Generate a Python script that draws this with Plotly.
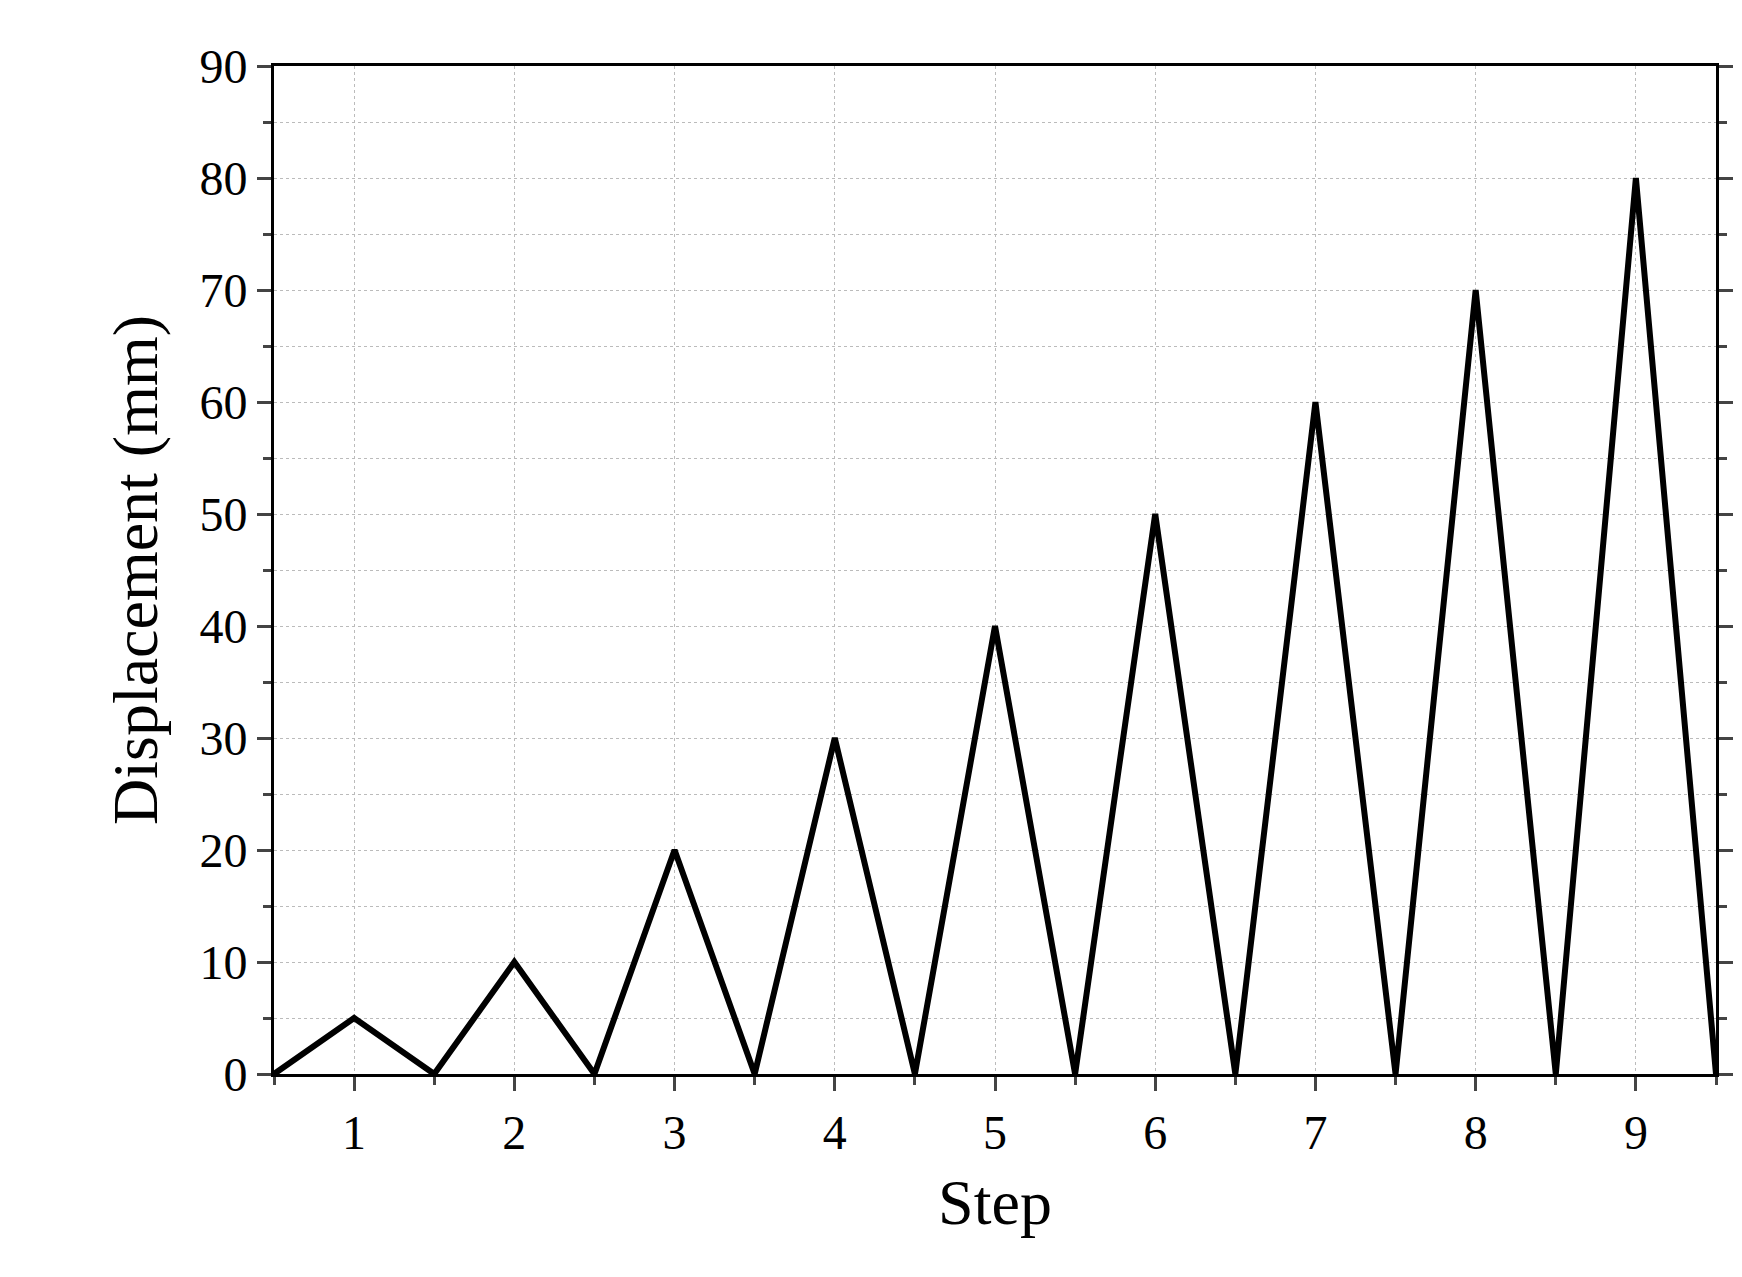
import plotly.graph_objects as go

steps = [0.5, 1, 1.5, 2, 2.5, 3, 3.5, 4, 4.5, 5, 5.5, 6, 6.5, 7, 7.5, 8, 8.5, 9, 9.5]
displacement = [0, 5, 0, 10, 0, 20, 0, 30, 0, 40, 0, 50, 0, 60, 0, 70, 0, 80, 0]
xticks = [1, 2, 3, 4, 5, 6, 7, 8, 9]

fig = go.Figure(go.Scatter(x=steps, y=displacement, mode="lines",
                           line=dict(color="black", width=6), cliponaxis=False))
font = dict(family="Liberation Serif, Times New Roman, serif", color="black")
fig.update_layout(
    width=1742, height=1277, paper_bgcolor="white", plot_bgcolor="white",
    margin=dict(l=266, r=34, t=58, b=211), showlegend=False,
    font=dict(**font, size=48),
    xaxis=dict(range=[0.5, 9.5], tickvals=xticks, ticks="outside", ticklen=14, tickwidth=3,
               showline=True, linewidth=3, linecolor="black", mirror=True,
               showgrid=True, gridcolor="#bbbbbb", griddash="dot", gridwidth=1,
               minor=dict(tickvals=[0.5,1.5,2.5,3.5,4.5,5.5,6.5,7.5,8.5,9.5], ticks="outside", ticklen=8, tickwidth=3, showgrid=False),
               title=dict(text="Step", font=dict(size=64), standoff=22), zeroline=False),
    yaxis=dict(range=[0, 90], dtick=10, ticks="outside", ticklen=14, tickwidth=3,
               showline=True, linewidth=3, linecolor="black", mirror="ticks",
               showgrid=True, gridcolor="#bbbbbb", griddash="dot", gridwidth=1,
               minor=dict(dtick=5, ticks="outside", ticklen=8, tickwidth=3, showgrid=True,
                          gridcolor="#bbbbbb", griddash="dot", gridwidth=1),
               title=dict(text="Displacement (mm)", font=dict(size=64), standoff=22), zeroline=False),
)
fig.write_html("out.html")
